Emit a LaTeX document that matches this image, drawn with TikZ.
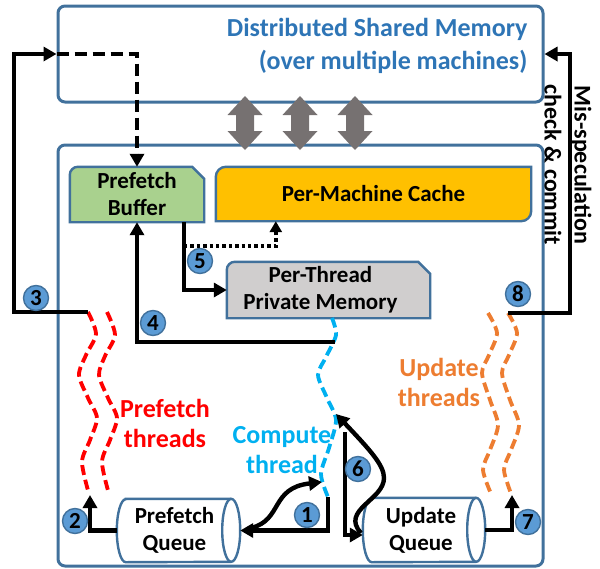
\documentclass[tikz,border=0pt]{standalone}
\usepackage{fontspec}
\setmainfont{Carlito}
\usetikzlibrary{arrows.meta}

\definecolor{frameblue}{HTML}{41719C}
\definecolor{dsmblue}{HTML}{2E75B6}
\definecolor{bufgreen}{HTML}{A9D18E}
\definecolor{cachegold}{HTML}{FFC000}
\definecolor{privgray}{HTML}{D0CECE}
\definecolor{stepblue}{HTML}{5B9BD5}
\definecolor{linkgray}{HTML}{767171}
\definecolor{prefred}{HTML}{FF0000}
\definecolor{compblue}{HTML}{00B0F0}
\definecolor{updorange}{HTML}{ED7D31}

\begin{document}
\begin{tikzpicture}[x=1pt,y=-1pt,
  frame/.style={draw=frameblue,line width=3pt,rounded corners=7pt,inner sep=0pt},
  shell/.style={draw=frameblue,line width=2.4pt},
  boxtext/.style={font=\fontsize{23}{27}\selectfont\bfseries,align=center,inner sep=0pt},
  label/.style={font=\fontsize{26}{30}\selectfont\bfseries,align=center,inner sep=0pt},
  thread/.style={line width=3.8pt,dash pattern=on 10pt off 5pt},
  flow/.style={line width=4.4pt,-{Triangle[length=13pt,width=14pt]}},
  stepno/.style={circle,fill=stepblue,draw=frameblue,line width=1.4pt,minimum size=25pt,
    inner sep=0pt,font=\fontsize{23}{23}\selectfont\bfseries}]
\useasboundingbox (0,0) rectangle (600,568);

% Frames: shared memory on top, one machine below
\node[frame,minimum width=485pt,minimum height=96pt] (dsm) at (300.5,54) {};
\node[frame,minimum width=485pt,minimum height=421pt] (machine) at (300.5,355.5) {};
\node[anchor=east,align=right,text=dsmblue,font=\fontsize{26}{33}\selectfont\bfseries]
  at (531,46) {Distributed Shared Memory\\(over multiple machines)};

% Links between the two
\foreach \cx in {245,300,355}
  \fill[linkgray] (\cx,96) -- ++(17.5,19) -- ++(-8.5,0) -- ++(0,16) -- ++(8.5,0)
    -- (\cx,150) -- ++(-17.5,-19) -- ++(8.5,0) -- ++(0,-16) -- ++(-8.5,0) -- cycle;

% Prefetch buffer (snipped corner)
\node[boxtext,minimum width=134pt,minimum height=55pt] (pbuf) at (137,194.5) {};
\draw[shell,fill=bufgreen] (pbuf.south west) -- ([yshift=-8pt]pbuf.north west)
  arc[start angle=180,end angle=270,radius=8] -- ([xshift=-12pt]pbuf.north east)
  -- ([yshift=-12pt]pbuf.north east) -- (pbuf.south east) -- cycle;
\node[boxtext] at (pbuf) {Prefetch\\Buffer};

% Per-machine cache
\node[boxtext,minimum width=315pt,minimum height=54pt] (cache) at (373.5,194) {};
\draw[shell,fill=cachegold] (cache.south west) -- ([yshift=-10pt]cache.north west)
  arc[start angle=180,end angle=270,radius=10] -- (cache.north east)
  -- ([yshift=10pt]cache.south east) arc[start angle=0,end angle=90,radius=10] -- cycle;
\node[boxtext] at (cache) {Per-Machine Cache};

% Per-thread private memory
\node[boxtext,minimum width=203pt,minimum height=56pt] (priv) at (328.5,290) {};
\draw[shell,fill=privgray] (priv.south west) -- ([yshift=-8pt]priv.north west)
  arc[start angle=180,end angle=270,radius=8] -- ([xshift=-12pt]priv.north east)
  -- ([yshift=-12pt]priv.north east) -- (priv.south east) -- cycle;
\node[boxtext] at ([xshift=-8pt]priv.center) {Per-Thread\\Private Memory};

% Queues (cylinders lying down)
\node[boxtext,minimum width=105pt,minimum height=63pt] (pq) at (178.5,530.5) {};
\node[boxtext,minimum width=104pt,minimum height=64pt] (uq) at (424,530) {};
\foreach \q/\r in {pq/31.5,uq/32} {
  \draw[shell,fill=white] (\q.north west) -- (\q.north east)
    arc[start angle=-90,end angle=90,x radius=9,y radius=\r] -- (\q.south west)
    arc[start angle=90,end angle=270,x radius=9,y radius=\r] -- cycle;
  \draw[shell] (\q.north east) arc[start angle=-90,end angle=-270,x radius=9,y radius=\r];
}
\node[boxtext] at ([xshift=-4pt]pq.center) {Prefetch\\Queue};
\node[boxtext] at ([xshift=-3pt]uq.center) {Update\\Queue};

% Threads
\draw[thread,prefred] plot[smooth] coordinates {(88,312) (96,334) (86,355) (79,375)
  (88,398) (97,418) (90,440) (82,462) (89,494)};
\draw[thread,prefred] plot[smooth] coordinates {(107,312) (115,335) (105,356) (99,375)
  (108,398) (117,418) (110,440) (102,462) (109,494)};
\draw[thread,compblue] plot[smooth] coordinates {(332,318) (336,335) (326,357) (318,375)
  (327,398) (336,420) (329,448) (321,474) (328,497)};
\draw[thread,updorange] plot[smooth] coordinates {(488,313) (497,333) (489,355) (482,373)
  (490,400) (498,425) (490,450) (483,470) (492,496)};
\draw[thread,updorange] plot[smooth] coordinates {(508,313) (517,333) (509,355) (502,373)
  (510,400) (519,425) (511,450) (504,470) (512,496)};

\node[label,text=prefred] (pflabel) at (165,423) {Prefetch\\threads};
\node[label,text=compblue] (ctlabel) at (282,450) {Compute\\thread};
\node[label,text=updorange] (utlabel) at (439,382) {Update\\threads};
\node[label,font=\fontsize{24}{30}\selectfont\bfseries,rotate=-90] (commit) at (568,165)
  {Mis-speculation\\check \& commit};

% Thread ends used by the connectors
\coordinate (pftop) at (88,312);
\coordinate (pfend) at (90,495);
\coordinate (ctmid) at (335,342);
\coordinate (ctend) at (328,497);
\coordinate (ctsplit) at (345,432);
\coordinate (utop) at (508,313);
\coordinate (uend) at (512,495);
\coordinate (bufout) at (184,222);
\coordinate (tap) at (184,246);

% Connectors
\draw[flow] (pftop) -- (14,312) |- (dsm.west);
\draw[line width=3.6pt,dash pattern=on 12pt off 6pt,-{Triangle[length=13pt,width=14pt]}]
  (dsm.west) -| (pbuf.north);
\draw[flow] (ctmid) -| (pbuf.south);
\draw[flow] (bufout) |- (priv.west);
\draw[line width=3.4pt,dash pattern=on 3.4pt off 3pt,-{Triangle[length=11pt,width=12pt]}]
  (tap) -| ([xshift=60pt]cache.south west);
\draw[flow] (ctend) |- ([xshift=9pt]pq.east);
\draw[flow] (251,528) .. controls (283,520) and (270,488) .. (322,482);
\draw[flow] ([xshift=-9pt]pq.west) -| (pfend);
\draw[flow] (ctsplit) |- ([xshift=-9pt,yshift=-5pt]uq.west);
\draw[flow] (361,533) .. controls (340,510) and (384,500) .. (384,478)
  .. controls (384,465) and (370,450) .. (336,414);
\draw[flow] ([xshift=9pt]uq.east) -| (uend);
\draw[flow] (utop) -- ++(62,0) |- (dsm.east);

% Step numbers
\node[stepno] (n1) at (307,515) {1};
\node[stepno] (n2) at (75,521) {2};
\node[stepno] (n3) at (36,298) {3};
\node[stepno] (n4) at (153,323) {4};
\node[stepno] (n5) at (200,261) {5};
\node[stepno] (n6) at (358,469) {6};
\node[stepno] (n7) at (528,522) {7};
\node[stepno] (n8) at (518,294) {8};
\end{tikzpicture}
\end{document}
